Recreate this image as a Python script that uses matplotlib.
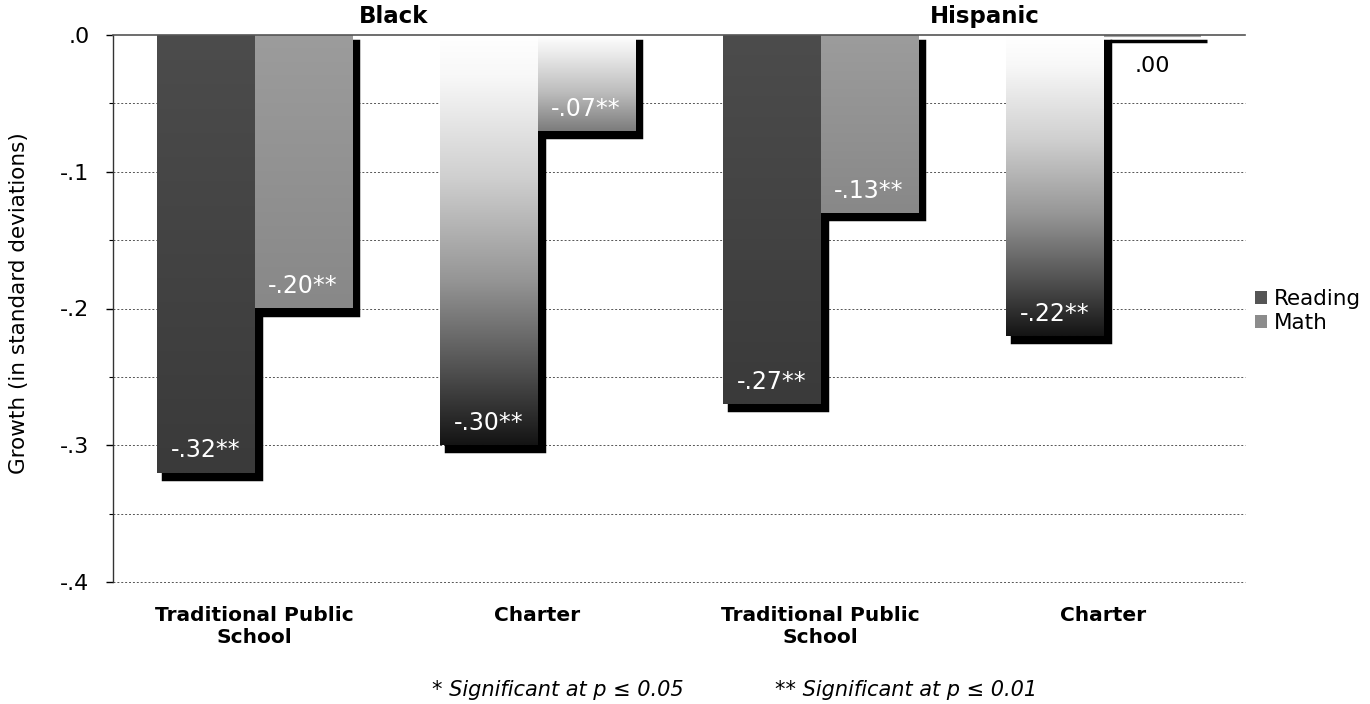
import numpy as np
import matplotlib
matplotlib.use("Agg")
import matplotlib.pyplot as plt
from matplotlib.colors import LinearSegmentedColormap
from matplotlib.patches import Patch
from matplotlib.transforms import ScaledTranslation, blended_transform_factory

plt.rcParams["font.family"] = ["DejaVu Sans"]

# ---- data -------------------------------------------------------------
groups = ["Black", "Hispanic"]
categories = ["Traditional Public\nSchool", "Charter",
              "Traditional Public\nSchool", "Charter"]
series = ["Reading", "Math"]
reading = [-0.32, -0.30, -0.27, -0.22]
math_scores = [-0.20, -0.07, -0.13, 0.00]
reading_labels = ["-.32**", "-.30**", "-.27**", "-.22**"]
math_labels = ["-.20**", "-.07**", "-.13**", ".00"]
y_ticks = [0.0, -0.1, -0.2, -0.3, -0.4]
y_ticklabels = [".0", "-.1", "-.2", "-.3", "-.4"]
footnotes = ["* Significant at p \u2264 0.05", "** Significant at p \u2264 0.01"]

# ---- styling ----------------------------------------------------------
tps_reading = [(0.0, "#4c4c4c"), (1.0, "#3a3a3a")]
tps_math = [(0.0, "#9c9c9c"), (1.0, "#888888")]
charter_reading = [(0.0, "#ffffff"), (0.10, "#f8f8f8"), (0.35, "#cfcfcf"),
                   (0.60, "#959595"), (0.82, "#505050"), (1.0, "#141414")]
charter_math = [(0.0, "#ffffff"), (0.2, "#eaeaea"), (0.6, "#bcbcbc"),
                (1.0, "#7c7c7c")]
reading_fills = [tps_reading, charter_reading, tps_reading, charter_reading]
math_fills = [tps_math, charter_math, tps_math, [(0.0, "#a0a0a0"), (1.0, "#a0a0a0")]]

fig = plt.figure(figsize=(13.7, 7.04), dpi=100)
ax = fig.add_axes([113 / 1370, 1 - 582 / 704, 1132 / 1370, 547 / 704])

x = np.arange(len(categories))
width = 0.343

# drop shadow: black copies nudged right and down
shadow = ax.transData + ScaledTranslation(6 / 100, -6 / 100, fig.dpi_scale_trans)
for vals, offs in ((reading, -width / 2), (math_scores, width / 2)):
    ax.bar(x + offs, vals, width, color="black", edgecolor="black",
           linewidth=2.5, transform=shadow, zorder=2)


def gradient_bar(xc, val, stops):
    bars = ax.bar(xc, val, width, color="none", linewidth=0, zorder=3)
    patch = bars[0]
    cmap = LinearSegmentedColormap.from_list("fill", stops)
    grad = np.linspace(0, 1, 256).reshape(-1, 1)
    lo = min(val, -0.006)
    img = ax.imshow(grad, cmap=cmap, vmin=0, vmax=1, aspect="auto",
                    extent=(xc - width / 2, xc + width / 2, lo, 0),
                    origin="upper", interpolation="bilinear", zorder=3)
    img.set_clip_path(patch)
    if val == 0:
        ax.bar(xc, val, width, color="#a0a0a0", edgecolor="#a0a0a0",
               linewidth=3, zorder=3)


for i in range(len(categories)):
    gradient_bar(x[i] - width / 2, reading[i], reading_fills[i])
    gradient_bar(x[i] + width / 2, math_scores[i], math_fills[i])

# value labels
for i in range(len(categories)):
    for xc, val, lab in ((x[i] - width / 2, reading[i], reading_labels[i]),
                         (x[i] + width / 2, math_scores[i], math_labels[i])):
        if val < 0:
            ax.annotate(lab, (xc, val), xytext=(0, 16), textcoords="offset points",
                        ha="center", va="center", color="white", fontsize=17,
                        zorder=5)
        else:
            ax.annotate(lab, (xc, val), xytext=(0, -22), textcoords="offset points",
                        ha="center", va="center", color="black", fontsize=16,
                        zorder=5)

# axes & grid
ax.set_xlim(-0.5, 3.5)
ax.set_ylim(-0.4, 0.0)
ax.set_yticks(y_ticks)
ax.set_yticklabels(y_ticklabels)
ax.set_yticks(np.arange(-0.35, 0.0, 0.1), minor=True)
for yv in np.arange(-0.4, 0.0, 0.05):
    ax.axhline(yv, color="#555555", lw=0.7, ls=(0, (2, 2)), zorder=1,
               clip_on=False)
ax.axhline(0.0, color="#555555", lw=1.2, zorder=4, clip_on=False)

ax.set_xticks(x)
ax.set_xticklabels(categories, fontweight="bold", fontsize=14.5)
ax.tick_params(axis="x", length=0, pad=17)
ax.tick_params(axis="y", which="major", length=5, width=1, labelsize=16, pad=12)
ax.tick_params(axis="y", which="minor", length=3, width=0.8)

for side in ("top", "right", "bottom"):
    ax.spines[side].set_visible(False)
ax.spines["left"].set_color("#333333")
ax.spines["left"].set_linewidth(1.0)

ax.set_ylabel("Growth (in standard deviations)", fontsize=15.5)
ax.yaxis.set_label_coords(-0.074, 0.51)

# group headers above the plot
hdr = blended_transform_factory(ax.transData, ax.transAxes)
ax.annotate(groups[0], (0.49, 1.0), xycoords=hdr, xytext=(0, 5),
            textcoords="offset points", ha="center", va="bottom",
            fontsize=16.5, fontweight="bold")
ax.annotate(groups[1], (2.58, 1.0), xycoords=hdr, xytext=(0, 5),
            textcoords="offset points", ha="center", va="bottom",
            fontsize=16.5, fontweight="bold")

# legend
handles = [Patch(facecolor="#555555"), Patch(facecolor="#8c8c8c")]
fig.legend(handles, series, loc="center left",
           bbox_to_anchor=(1255 / 1370, 1 - 311 / 704), frameon=False,
           fontsize=15.5, handlelength=0.55, handleheight=0.55,
           handletextpad=0.35, labelspacing=0.2, borderpad=0,
           borderaxespad=0)

# significance notes
fig.text(432 / 1370, 1 - 690 / 704, footnotes[0], fontsize=15, style="italic",
         ha="left", va="center")
fig.text(775 / 1370, 1 - 690 / 704, footnotes[1], fontsize=15, style="italic",
         ha="left", va="center")

fig.savefig("out.png", dpi=100)
